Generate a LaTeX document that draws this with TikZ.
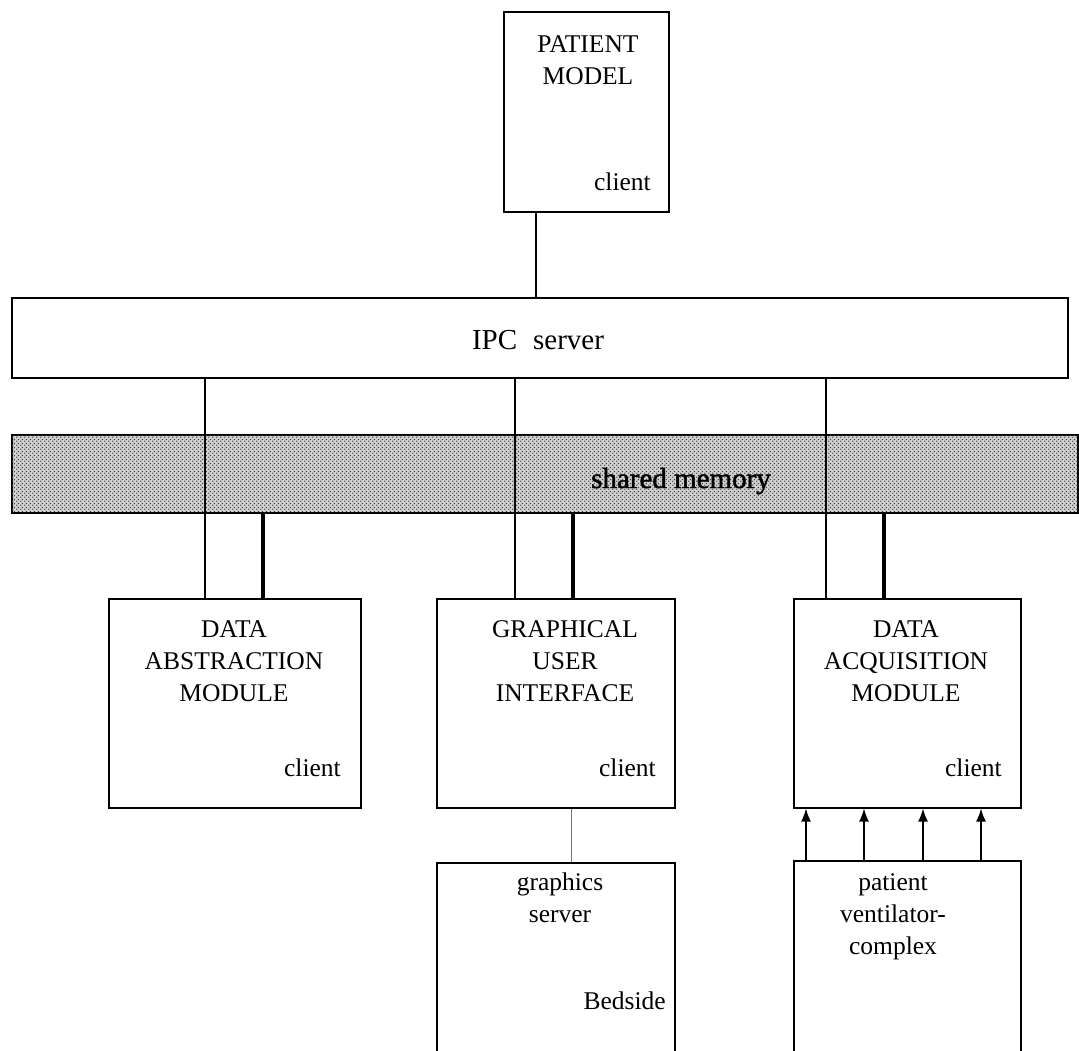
\documentclass[tikz,border=0pt]{standalone}
\usepackage{fontspec}
\setmainfont{Liberation Serif}
\usetikzlibrary{arrows.meta,patterns}
% halftone-like dot screen for the shared memory band
\pgfdeclarepatternformonly{screen dots}{\pgfqpoint{0pt}{0pt}}{\pgfqpoint{4pt}{4pt}}{\pgfqpoint{4pt}{4pt}}{%
  \pgfpathcircle{\pgfqpoint{1pt}{1pt}}{0.9pt}%
  \pgfpathcircle{\pgfqpoint{3pt}{3pt}}{0.9pt}%
  \pgfusepath{fill}}
\begin{document}
\begin{tikzpicture}[x=1pt,y=-1pt,
  box/.style={draw, line width=1.6pt, anchor=north west, inner sep=0pt},
  lbl/.style={font=\fontsize{25.5}{32}\selectfont, align=center, inner sep=0pt, anchor=base},
  tag/.style={font=\fontsize{25.5}{32}\selectfont, anchor=base east, inner sep=0pt},
  big/.style={font=\fontsize{29}{34}\selectfont, inner sep=0pt, anchor=base},
  thin/.style={line width=1.3pt},
  thick link/.style={line width=4pt},
  feed/.style={line width=1.3pt, -{Latex[length=13pt,width=10pt]}}]
\useasboundingbox (0,0) rectangle (1079,1050);

% client and server boxes
\node[box, minimum width=165pt, minimum height=200pt] (pm) at (503,11) {};
\node[box, minimum width=1056pt, minimum height=80pt] (ipc) at (11,297) {};
\node[box, fill=black!18, postaction={pattern=screen dots, pattern color=black!75},
      minimum width=1066pt, minimum height=78pt] (shm) at (11,434) {};
\node[box, minimum width=252pt, minimum height=209pt] (dam) at (108,598) {};
\node[box, minimum width=238pt, minimum height=209pt] (gui) at (436,598) {};
\node[box, minimum width=227pt, minimum height=209pt] (daq) at (793,598) {};
\node[box, minimum width=238pt, minimum height=200pt] (gs) at (436,862) {};
\node[box, minimum width=227pt, minimum height=200pt] (pvc) at (793,860) {};

% texts (multi-line labels are placed by the baseline of their last line)
\node[lbl] (pmt) at (588,84) {PATIENT\\MODEL};
\node[tag] (pmc) at (651,190) {client};
\node[big] (ipct) at (538,349) {IPC\hspace{16pt}server};
\node[big] (shmt) at (681,488) {\addfontfeature{FakeBold=1.5}shared memory};
\node[lbl] (damt) at (234,701) {DATA\\ABSTRACTION\\MODULE};
\node[tag] (damc) at (341,776) {client};
\node[lbl] (guit) at (565,701) {GRAPHICAL\\USER\\INTERFACE};
\node[tag] (guic) at (656,776) {client};
\node[lbl] (daqt) at (906,701) {DATA\\ACQUISITION\\MODULE};
\node[tag] (daqc) at (1002,776) {client};
\node[lbl] (gst) at (560,922) {graphics\\server};
\node[tag] (gsc) at (666,1009) {Bedside};
\node[lbl] (pvct) at (893,954) {patient\\ventilator-\\complex};

% patient model to IPC server
\draw[thin] (536,0 |- pm.south) -- (536,0 |- ipc.north);

% IPC server to each client
\foreach \x/\c in {205/dam, 515/gui, 826/daq}
  \draw[thin] (\x,0 |- ipc.south) -- (\x,0 |- \c.north);

% shared memory to each client
\foreach \x/\c in {263/dam, 573/gui, 884/daq}
  \draw[thick link] (\x,0 |- shm.south) -- (\x,0 |- \c.north);

% GUI to graphics server
\draw[line width=0.8pt, black!55] (571,0 |- gui.south) -- (571,0 |- gs.north);

% ventilator signals into acquisition
\foreach \x in {806, 864, 923, 981}
  \draw[feed] (\x,0 |- pvc.north) -- (\x,0 |- daq.south);
\end{tikzpicture}
\end{document}
